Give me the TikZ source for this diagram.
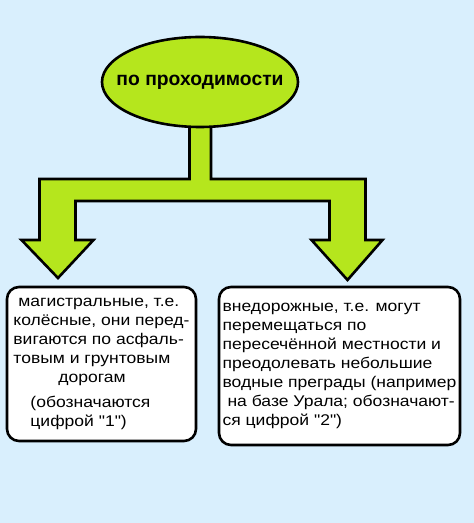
\documentclass[tikz,border=0pt]{standalone}
\usepackage{fontspec}
\setmainfont{Liberation Sans}
\newfontfamily\bodyfont[FakeStretch=1.13, Ligatures=TeXOff]{Liberation Sans}
\usetikzlibrary{positioning,shapes.geometric}
\definecolor{skyback}{RGB}{217,239,253}
\definecolor{paintlime}{RGB}{181,230,29}

\begin{document}
\begin{tikzpicture}[
    x=1pt, y=1pt,
    category/.style={ellipse, draw, line width=2.6pt, fill=paintlime, minimum width=196pt, minimum height=90pt, inner sep=0pt, font=\bfseries\fontsize{19.3}{21}\selectfont},
    kind/.style={rectangle, draw, line width=2.6pt, fill=white, rounded corners=12pt, align=left, inner sep=0pt, font=\bodyfont\fontsize{15.5}{19}\selectfont},
    blockarrow/.style={draw, line width=2.6pt, fill=paintlime, line join=miter}
]

% Background
\fill[skyback] (0,0) rectangle (474,523);
\useasboundingbox (0,0) rectangle (474,523);

% Branching block arrow (drawn first, the ellipse covers its top)
\draw[blockarrow] (189.5,420) -- ++(0,-76) -- ++(-150,0) -- ++(0,-61) -- ++(-18,0)
    -- ++(36.5,-38) -- ++(35.5,38) -- ++(-18,0) -- ++(0,39) -- ++(254,0)
    -- ++(0,-39) -- ++(-18,0) -- ++(36,-40) -- ++(35,40) -- ++(-17,0)
    -- ++(0,61) -- ++(-154.5,0) -- ++(0,76) -- cycle;

% Category
\node[category] (title) at (200,441) {\makebox[0pt]{по проходимости}};

% Wheeled vehicles
\node[kind, minimum width=189pt, minimum height=154pt] (wheeled) at (101.5,159) {%
\hspace*{5pt}магистральные, т.е.\\
колёсные, они перед-\\
вигаются по асфаль-\\
товым и грунтовым\\
\hspace*{45pt}дорогам\\[6pt]
\hspace*{17pt}(обозначаются\\
\hspace*{17pt}цифрой "1")};

% Off-road vehicles
\node[kind, minimum width=241pt, minimum height=158pt] (offroad) at (339.5,157) {%
внедорожные, т.е. могут\\
перемещаться по\\
пересечённой местности и\\
преодолевать небольшие\\
водные преграды (например\hspace*{9pt}\\
\hspace*{5pt}на базе Урала; обозначают-\\
ся цифрой "2")};

\end{tikzpicture}
\end{document}
